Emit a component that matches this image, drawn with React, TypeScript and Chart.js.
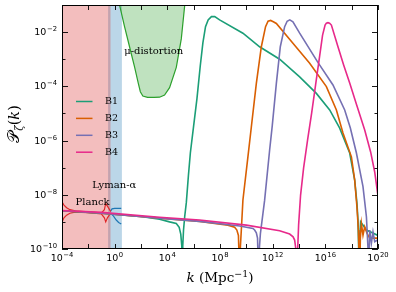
import React, { useEffect, useRef } from 'react';
import { Chart, registerables } from 'chart.js';

Chart.register(...registerables);

// ---- data (log10 k [Mpc^-1], log10 P_zeta) ----
const B1_LOGK = [-4, -1, 2, 3.41, 4.17, 4.68, 4.9, 5.02, 5.1, 5.13, 5.17, 5.23, 5.32, 5.44, 5.6, 5.75, 6.0, 6.25, 6.5, 6.7, 6.9, 7.1, 7.35, 7.6, 7.97, 9.74, 11.01, 12.53, 14.05, 15.32, 16.33, 17.09, 17.85, 18.23, 18.4, 18.48, 18.53, 18.57, 18.62, 18.68, 19.12, 20];
const B1_LOGP = [-8.59, -8.68, -8.8, -8.9, -9.0, -9.06, -9.2, -9.45, -9.9, -11, -9.9, -9.3, -8.8, -8.3, -7.3, -6.45, -5.45, -4.45, -3.25, -2.4, -1.8, -1.55, -1.43, -1.43, -1.55, -2.04, -2.54, -3.0, -3.65, -4.26, -4.87, -5.54, -6.46, -7.46, -8.31, -8.93, -9.97, -11, -9.5, -9.0, -9.3, -9.5];

const B2_LOGK = [-4, -1, 3.41, 6.45, 8.6, 9.11, 9.28, 9.4, 9.49, 9.55, 9.62, 9.74, 10.12, 10.38, 10.76, 11.14, 11.46, 11.65, 11.85, 12.05, 12.28, 13.54, 14.81, 16.08, 16.84, 17.34, 17.98, 18.23, 18.4, 18.51, 18.55, 18.6, 18.66, 18.74, 18.86, 18.99, 19.16, 19.37, 20];
const B2_LOGP = [-8.59, -8.68, -8.86, -8.98, -9.12, -9.2, -9.3, -9.5, -11, -9.9, -9.3, -8.2, -6.6, -5.5, -3.89, -2.54, -1.8, -1.6, -1.57, -1.62, -1.68, -2.41, -3.15, -4.01, -4.87, -5.72, -6.6, -7.46, -8.44, -9.3, -9.97, -11, -9.6, -9.06, -9.49, -9.18, -9.42, -9.6, -9.6];

const B3_LOGK = [-4, -1, 3.41, 6.45, 9.5, 10.5, 10.63, 10.76, 10.85, 10.93, 11.0, 11.07, 11.39, 11.77, 11.97, 12.28, 12.58, 12.91, 13.1, 13.3, 13.54, 14.05, 15.41, 16.58, 17.47, 17.9, 18.36, 18.86, 19.12, 19.24, 19.3, 19.37, 19.5, 19.62, 19.75, 19.97];
const B3_LOGP = [-8.59, -8.68, -8.86, -8.98, -9.15, -9.24, -9.3, -9.4, -9.6, -11, -9.9, -9.42, -8.2, -6.35, -5.45, -3.89, -2.54, -1.8, -1.6, -1.55, -1.62, -2.04, -3.1, -3.95, -4.87, -5.54, -6.46, -7.7, -8.81, -9.97, -11, -9.3, -9.78, -9.37, -9.73, -9.67];

const B4_LOGK = [-4, -1, 3.41, 6.45, 10, 12.53, 13.29, 13.55, 13.67, 13.76, 13.82, 13.9, 13.97, 14.12, 14.35, 14.65, 14.96, 15.26, 15.57, 15.79, 15.98, 16.08, 16.2, 16.32, 16.46, 16.96, 17.39, 17.85, 18.38, 18.99, 19.44, 19.75, 20];
const B4_LOGP = [-8.58, -8.65, -8.83, -8.93, -9.12, -9.33, -9.45, -9.55, -9.67, -10.0, -11, -10.0, -9.12, -8.01, -7.01, -5.98, -4.99, -3.95, -2.88, -2.11, -1.74, -1.67, -1.65, -1.67, -1.74, -2.54, -3.21, -3.88, -4.69, -5.61, -6.42, -7.16, -8.05];

const SERIES_LABELS = ['B1', 'B2', 'B3', 'B4'];
const SERIES_COLORS = ['#1b9e77', '#d95f02', '#7570b3', '#e7298a'];

// constraints
const PLANCK_REGION_LOGK = [-4, -0.3];
const LYA_REGION_LOGK = [-0.5, 0.55];
const MU_LOGK = [0.3, 0.37, 0.75, 1.13, 1.51, 1.8, 1.95, 2.14, 2.5, 3.0, 3.41, 3.79, 4.17, 4.68, 5.06, 5.31, 5.36];
const MU_LOGP = [-0.7, -1.0, -1.8, -2.54, -3.28, -3.9, -4.2, -4.36, -4.41, -4.41, -4.4, -4.32, -4.05, -3.3, -2.25, -1.06, -0.8];

const PLANCK_UP_LOGK = [-4, -3.85, -3.65, -3.4, -3.0, -2.0, -1.0, -0.78, -0.68, -0.55, -0.3];
const PLANCK_UP_LOGP = [-8.26, -8.38, -8.48, -8.55, -8.59, -8.63, -8.67, -8.55, -8.32, -8.42, -8.62];
const PLANCK_LO_LOGK = [-4, -3.85, -3.65, -3.4, -3.0, -2.0, -1.0, -0.78, -0.68, -0.55, -0.3];
const PLANCK_LO_LOGP = [-9.0, -8.85, -8.75, -8.68, -8.64, -8.66, -8.71, -8.85, -9.0, -8.85, -8.68];

const LYA_UP_LOGK = [-0.31, -0.2, 0.0, 0.5];
const LYA_UP_LOGP = [-8.6, -8.52, -8.5, -8.5];
const LYA_LO_LOGK = [-0.31, -0.1, 0.12, 0.3, 0.5];
const LYA_LO_LOGP = [-8.68, -8.78, -8.93, -9.02, -9.08];

// axes
const X_MIN_EXP = -4;
const X_MAX_EXP = 20;
const Y_MIN_EXP = -10;
const Y_MAX_EXP = -1;
const X_TICK_EXPS = [-4, -2, 0, 2, 4, 6, 8, 10, 12, 14, 16, 18, 20];
const X_LABEL_EXPS = [-4, 0, 4, 8, 12, 16, 20];
const Y_TICK_EXPS = [-10, -9, -8, -7, -6, -5, -4, -3, -2, -1];
const Y_LABEL_EXPS = [-10, -8, -6, -4, -2];

const ANNOTATIONS = [
  { text: 'μ-distortion', logk: 0.72, logp: -2.7 },
  { text: 'Lyman-α', logk: -1.71, logp: -7.67 },
  { text: 'Planck', logk: -2.97, logp: -8.28 },
];

const pts = (lk: number[], lp: number[]) => lk.map((v, i) => ({ x: Math.pow(10, v), y: Math.pow(10, lp[i]) }));

const SERIF = '"DejaVu Serif", serif';
const SANS = '"DejaVu Sans", sans-serif';

function drawPow(ctx: CanvasRenderingContext2D, exp: number, x: number, y: number, align: 'center' | 'right') {
  const base = '10';
  const sup = exp < 0 ? '\u2212' + Math.abs(exp) : String(exp);
  ctx.font = `9.5px ${SANS}`;
  const w1 = ctx.measureText(base).width;
  ctx.font = `6.8px ${SANS}`;
  const w2 = ctx.measureText(sup).width;
  const total = w1 + 0.6 + w2;
  const x0 = align === 'center' ? x - total / 2 : x - total;
  ctx.textAlign = 'left';
  ctx.textBaseline = 'alphabetic';
  ctx.font = `9.5px ${SANS}`;
  ctx.fillText(base, x0, y);
  ctx.font = `6.8px ${SANS}`;
  ctx.fillText(sup, x0 + w1 + 0.6, y - 4);
}

const decorPlugin = {
  id: 'decor',
  afterDatasetsDraw(chart: any) {
    const ctx: CanvasRenderingContext2D = chart.ctx;
    const a = chart.chartArea;
    const xs = chart.scales.x;
    const ys = chart.scales.y;
    ctx.save();
    ctx.fillStyle = '#000';
    ctx.strokeStyle = '#000';

    // annotations
    ctx.font = `10px ${SERIF}`;
    ctx.textAlign = 'left';
    ctx.textBaseline = 'middle';
    for (const an of ANNOTATIONS) {
      ctx.fillText(an.text, xs.getPixelForValue(Math.pow(10, an.logk)), ys.getPixelForValue(Math.pow(10, an.logp)));
    }

    // legend
    const lx0 = a.left + 14;
    const lx1 = a.left + 30.5;
    const tx = a.left + 43;
    SERIES_LABELS.forEach((lab, i) => {
      const yy = a.top + 96.5 + i * 16.9;
      ctx.strokeStyle = SERIES_COLORS[i];
      ctx.lineWidth = 1.5;
      ctx.beginPath();
      ctx.moveTo(lx0, yy);
      ctx.lineTo(lx1, yy);
      ctx.stroke();
      ctx.fillStyle = '#000';
      ctx.font = `9.5px ${SERIF}`;
      ctx.textBaseline = 'middle';
      ctx.textAlign = 'left';
      ctx.fillText(lab, tx, yy + 0.5);
    });

    // frame
    ctx.strokeStyle = '#000';
    ctx.lineWidth = 1;
    ctx.strokeRect(a.left + 0.5, a.top + 0.5, a.right - a.left - 1, a.bottom - a.top - 1);

    // ticks
    ctx.lineWidth = 0.9;
    for (const e of X_TICK_EXPS) {
      const px = Math.round(xs.getPixelForValue(Math.pow(10, e))) + 0.5;
      const len = 5;
      ctx.beginPath();
      ctx.moveTo(px, a.bottom);
      ctx.lineTo(px, a.bottom - len);
      ctx.moveTo(px, a.top);
      ctx.lineTo(px, a.top + len);
      ctx.stroke();
    }
    for (const e of Y_TICK_EXPS) {
      const py = Math.round(ys.getPixelForValue(Math.pow(10, e))) + 0.5;
      const len = Y_LABEL_EXPS.includes(e) ? 6 : 3.5;
      ctx.beginPath();
      ctx.moveTo(a.left, py);
      ctx.lineTo(a.left + len, py);
      ctx.moveTo(a.right, py);
      ctx.lineTo(a.right - len, py);
      ctx.stroke();
    }

    // tick labels
    ctx.fillStyle = '#000';
    for (const e of X_LABEL_EXPS) {
      drawPow(ctx, e, xs.getPixelForValue(Math.pow(10, e)), a.bottom + 12, 'center');
    }
    for (const e of Y_LABEL_EXPS) {
      drawPow(ctx, e, a.left - 5, ys.getPixelForValue(Math.pow(10, e)) + 3, 'right');
    }

    // x title: k (Mpc^-1)
    {
      const fs = 13.5;
      const parts = [
        { t: 'k', f: `italic ${fs}px ${SERIF}`, dy: 0 },
        { t: ' (Mpc', f: `${fs}px ${SERIF}`, dy: 0 },
        { t: '\u22121', f: `${fs * 0.7}px ${SERIF}`, dy: -5.5 },
        { t: ')', f: `${fs}px ${SERIF}`, dy: 0 },
      ];
      let total = 0;
      const ws = parts.map((p) => { ctx.font = p.f; const w = ctx.measureText(p.t).width; total += w; return w; });
      let x = (a.left + a.right) / 2 - total / 2;
      const base = 282;
      ctx.textAlign = 'left';
      ctx.textBaseline = 'alphabetic';
      parts.forEach((p, i) => { ctx.font = p.f; ctx.fillText(p.t, x, base + p.dy); x += ws[i]; });
    }

    // y title: P_zeta(k)
    {
      const fs = 14.5;
      const parts = [
        { t: '\u{1D4AB}', f: `${fs + 1.5}px ${SERIF}`, dy: 0 },
        { t: 'ζ', f: `italic ${fs * 0.7}px ${SERIF}`, dy: 3.5 },
        { t: '(', f: `${fs}px ${SERIF}`, dy: 0 },
        { t: 'k', f: `italic ${fs}px ${SERIF}`, dy: 0 },
        { t: ')', f: `${fs}px ${SERIF}`, dy: 0 },
      ];
      let total = 0;
      const ws = parts.map((p) => { ctx.font = p.f; const w = ctx.measureText(p.t).width; total += w; return w; });
      ctx.translate(19, 124);
      ctx.rotate(-Math.PI / 2);
      let x = -total / 2;
      ctx.textAlign = 'left';
      ctx.textBaseline = 'alphabetic';
      parts.forEach((p, i) => { ctx.font = p.f; ctx.fillText(p.t, x, p.dy); x += ws[i]; });
    }
    ctx.restore();
  },
};

export default function App() {
  const ref = useRef<HTMLCanvasElement>(null);
  useEffect(() => {
    document.body.style.margin = '0';
    const canvas = ref.current;
    if (!canvas) return;
    const curve = (i: number, lk: number[], lp: number[]) => ({
      label: SERIES_LABELS[i],
      data: pts(lk, lp),
      borderColor: SERIES_COLORS[i],
      backgroundColor: SERIES_COLORS[i],
      borderWidth: 1.6,
      pointRadius: 0,
      fill: false,
      order: 4 - i,
    });
    const region = (lk: number[], color: string, order: number) => ({
      label: 'region',
      data: lk.map((v) => ({ x: Math.pow(10, v), y: 10 })),
      borderWidth: 0,
      borderColor: 'rgba(0,0,0,0)',
      backgroundColor: color,
      pointRadius: 0,
      fill: 'start',
      order,
    });
    const cline = (lk: number[], lp: number[], color: string) => ({
      label: 'constraint',
      data: pts(lk, lp),
      borderColor: color,
      borderWidth: 1.2,
      pointRadius: 0,
      fill: false,
      order: 6,
    });
    const chart = new Chart(canvas, {
      type: 'line',
      data: {
        datasets: [
          curve(0, B1_LOGK, B1_LOGP),
          curve(1, B2_LOGK, B2_LOGP),
          curve(2, B3_LOGK, B3_LOGP),
          curve(3, B4_LOGK, B4_LOGP),
          cline(PLANCK_UP_LOGK, PLANCK_UP_LOGP, '#e0282a'),
          cline(PLANCK_LO_LOGK, PLANCK_LO_LOGP, '#e0282a'),
          cline(LYA_UP_LOGK, LYA_UP_LOGP, '#1f77b4'),
          cline(LYA_LO_LOGK, LYA_LO_LOGP, '#1f77b4'),
          region(PLANCK_REGION_LOGK, 'rgba(214,39,40,0.3)', 12),
          region(LYA_REGION_LOGK, 'rgba(31,119,180,0.3)', 13),
          {
            label: 'mu',
            data: pts(MU_LOGK, MU_LOGP),
            borderColor: '#2ca02c',
            backgroundColor: 'rgba(44,160,44,0.3)',
            borderWidth: 1.2,
            pointRadius: 0,
            fill: 'end',
            order: 11,
          },
        ] as any,
      },
      options: {
        responsive: false,
        devicePixelRatio: 1,
        animation: false,
        layout: { padding: { left: 62, top: 5, right: 18, bottom: 43 } },
        elements: { line: { tension: 0 }, point: { radius: 0 } },
        scales: {
          x: { type: 'logarithmic', min: Math.pow(10, X_MIN_EXP), max: Math.pow(10, X_MAX_EXP), display: false },
          y: { type: 'logarithmic', min: Math.pow(10, Y_MIN_EXP), max: Math.pow(10, Y_MAX_EXP), display: false },
        },
        plugins: { legend: { display: false }, tooltip: { enabled: false } },
      } as any,
      plugins: [decorPlugin],
    });
    return () => chart.destroy();
  }, []);
  return (
    <div style={{ width: 396, height: 292 }}>
      <canvas ref={ref} width={396} height={292} style={{ display: 'block', width: 396, height: 292 }} />
    </div>
  );
}
